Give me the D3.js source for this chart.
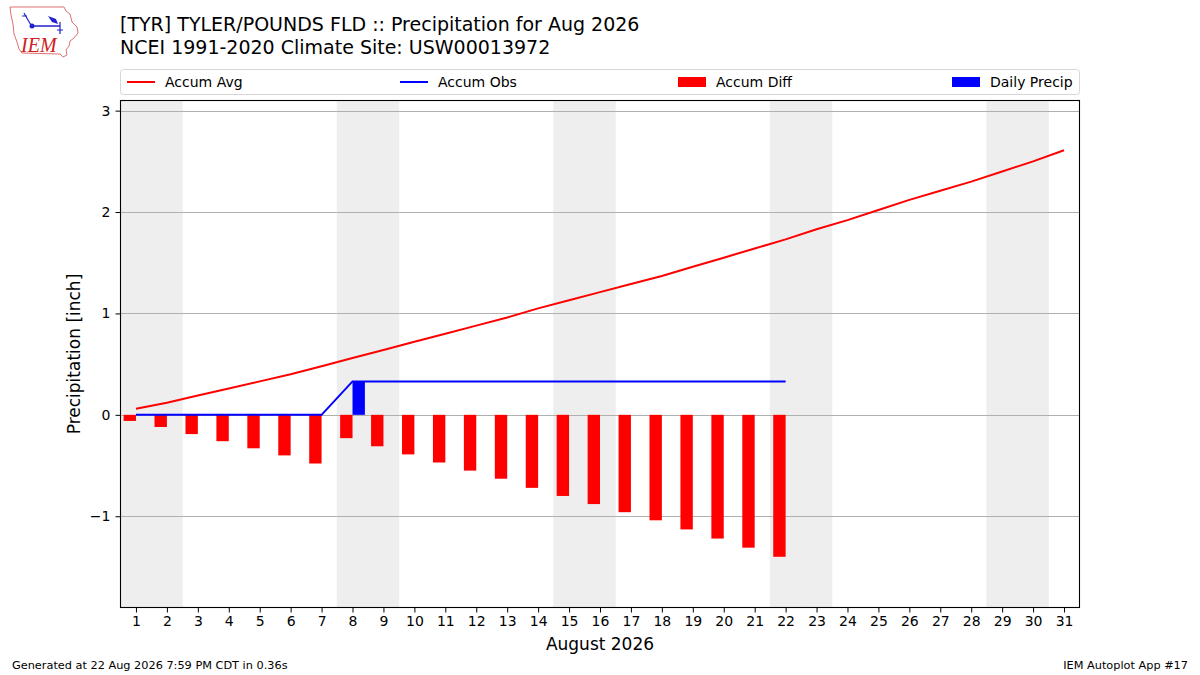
<!DOCTYPE html>
<html>
<head>
<meta charset="utf-8">
<script src="https://cdn.jsdelivr.net/npm/d3@7"></script>
<style>
  body { margin: 0; background: #fff; }
  svg { display: block; font-family: "DejaVu Sans", sans-serif; }
</style>
</head>
<body>
<div id="chart"></div>
<script>
// days of the month shown on the x axis
var days = d3.range(1, 32);
// weekend days (Sat/Sun) of Aug 2026, shaded
var weekends = [1, 2, 8, 9, 15, 16, 22, 23, 29, 30];
// climatology accumulated precip (inch)
var accumAvg = [0.06, 0.12, 0.19, 0.26, 0.33, 0.40, 0.48, 0.56, 0.64, 0.72,
                0.80, 0.88, 0.96, 1.05, 1.13, 1.21, 1.29, 1.37, 1.46, 1.55,
                1.64, 1.73, 1.83, 1.92, 2.02, 2.12, 2.21, 2.30, 2.40, 2.50, 2.61];
// observed daily precip, days 1..22
var dailyPrecip = [0, 0, 0, 0, 0, 0, 0, 0.33, 0, 0, 0, 0, 0, 0, 0, 0, 0, 0, 0, 0, 0, 0];
var yTicks = [-1, 0, 1, 2, 3];

var title1 = "[TYR] TYLER/POUNDS FLD :: Precipitation for Aug 2026";
var title2 = "NCEI 1991-2020 Climate Site: USW00013972";

var W = 1200, H = 675;
var margin = {left: 120.5, right: 1079.5, top: 100.5, bottom: 607.5};

var accumObs = [];
dailyPrecip.reduce(function(acc, v) { acc += v; accumObs.push(acc); return acc; }, 0);
var accumDiff = accumObs.map((v, i) => v - accumAvg[i]);

var svg = d3.select("#chart").append("svg")
    .attr("width", W).attr("height", H);

var x = d3.scaleLinear().domain([0.5, 31.5]).range([margin.left, margin.right]);
var y = d3.scaleLinear().domain([-1.9, 3.1]).range([margin.bottom, margin.top]);
var dayW = x(1) - x(0);

// weekend shading (slight overlap so neighbouring days don't show a seam)
svg.append("g").selectAll("rect")
    .data(weekends)
    .join("rect")
    .attr("x", d => x(d - 0.5) - 0.3)
    .attr("width", dayW + 0.6)
    .attr("y", margin.top)
    .attr("height", margin.bottom - margin.top)
    .attr("fill", "#eeeeee");

// grid
svg.append("g").selectAll("line")
    .data(yTicks)
    .join("line")
    .attr("x1", margin.left).attr("x2", margin.right)
    .attr("y1", d => Math.round(y(d)) + 0.5).attr("y2", d => Math.round(y(d)) + 0.5)
    .attr("stroke", "#b0b0b0").attr("stroke-width", 1);

// accum diff bars, left of the day
svg.append("g").selectAll("rect")
    .data(accumDiff)
    .join("rect")
    .attr("x", (d, i) => x(i + 1 - 0.4))
    .attr("width", dayW * 0.4)
    .attr("y", d => Math.min(y(0), y(d)))
    .attr("height", d => Math.abs(y(d) - y(0)))
    .attr("fill", "red");

// daily precip bars, right of the day
svg.append("g").selectAll("rect")
    .data(dailyPrecip)
    .join("rect")
    .attr("x", (d, i) => x(i + 1))
    .attr("width", dayW * 0.4)
    .attr("y", d => y(d))
    .attr("height", d => y(0) - y(d))
    .attr("fill", "blue");

var line = d3.line().x((d, i) => x(i + 1)).y(d => y(d));

svg.append("path")
    .datum(accumAvg)
    .attr("d", line)
    .attr("fill", "none").attr("stroke", "red").attr("stroke-width", 2);

svg.append("path")
    .datum(accumObs)
    .attr("d", line)
    .attr("fill", "none").attr("stroke", "blue").attr("stroke-width", 2);

// frame
svg.append("rect")
    .attr("x", margin.left).attr("y", margin.top)
    .attr("width", margin.right - margin.left)
    .attr("height", margin.bottom - margin.top)
    .attr("fill", "none").attr("stroke", "#000").attr("stroke-width", 1.1);

// axes
var xAxis = svg.append("g")
    .attr("transform", `translate(0,${margin.bottom})`)
    .call(d3.axisBottom(x).tickValues(days).tickFormat(d3.format("d")).tickSize(5).tickPadding(4));
var yAxis = svg.append("g")
    .attr("transform", `translate(${margin.left},0)`)
    .call(d3.axisLeft(y).tickValues(yTicks).tickFormat(d3.format("d")).tickSize(5).tickPadding(5));
[xAxis, yAxis].forEach(function(g) {
    g.select(".domain").remove();
    g.selectAll("text").attr("font-size", 14).attr("font-family", "DejaVu Sans").attr("fill", "#000");
    g.selectAll("line").attr("stroke", "#000");
});

svg.append("text")
    .attr("x", (margin.left + margin.right) / 2).attr("y", 650)
    .attr("text-anchor", "middle").attr("font-size", 17)
    .text("August 2026");
svg.append("text")
    .attr("transform", `translate(80,${(margin.top + margin.bottom) / 2}) rotate(-90)`)
    .attr("text-anchor", "middle").attr("font-size", 17)
    .text("Precipitation [inch]");

// titles
svg.append("text").attr("x", 120).attr("y", 31).attr("font-size", 19).text(title1);
svg.append("text").attr("x", 120).attr("y", 54).attr("font-size", 19).text(title2);

// legend
var legendItems = [
    {name: "Accum Avg", color: "red", kind: "line"},
    {name: "Accum Obs", color: "blue", kind: "line"},
    {name: "Accum Diff", color: "red", kind: "rect"},
    {name: "Daily Precip", color: "blue", kind: "rect"}
];
var legendCols = [127, 400, 678, 952];
var legY = 82;
svg.append("rect")
    .attr("x", 120.5).attr("y", 69.5).attr("width", 959).attr("height", 25)
    .attr("rx", 3).attr("fill", "#fff").attr("stroke", "#d6d6d6");
var li = svg.append("g").selectAll("g")
    .data(legendItems)
    .join("g")
    .attr("transform", (d, i) => `translate(${legendCols[i]},${legY})`);
li.filter(d => d.kind === "line").append("line")
    .attr("x1", 0).attr("x2", 28).attr("y1", 0).attr("y2", 0)
    .attr("stroke", d => d.color).attr("stroke-width", 2);
li.filter(d => d.kind === "rect").append("rect")
    .attr("x", 0).attr("y", -5).attr("width", 28).attr("height", 10)
    .attr("fill", d => d.color);
li.append("text")
    .attr("x", 38).attr("y", 5)
    .attr("font-size", 14)
    .text(d => d.name);

// footer
svg.append("text").attr("x", 12).attr("y", 669).attr("font-size", 11.3)
    .text("Generated at 22 Aug 2026 7:59 PM CDT in 0.36s");
svg.append("text").attr("x", 1188).attr("y", 669).attr("font-size", 11.3)
    .attr("text-anchor", "end").text("IEM Autoplot App #17");

// IEM logo
var logo = svg.append("g");
logo.append("path")
    .attr("d", "M10,7 L64,7 L66,11 L70,14 L72,22 L77,27 L78,33 L74,38 L70,41 L69,46 L66,50 L67,55 L63,57 L60,54 L22,53 L19,49 L17,42 L14,34 L13,24 L11,15 Z")
    .attr("fill", "#fff").attr("stroke", "#e07070").attr("stroke-width", 1);
logo.append("line").attr("x1", 31).attr("x2", 60).attr("y1", 26).attr("y2", 26)
    .attr("stroke", "#2222cc").attr("stroke-width", 1.5);
logo.append("circle").attr("cx", 32).attr("cy", 26).attr("r", 2.5).attr("fill", "#2222cc");
logo.append("path").attr("d", "M48,16 L56,19 L58,24 L52,22 Z").attr("fill", "#2222cc");
logo.append("path").attr("d", "M24,13 L28,20 L31,25 M22,16 L27,16").attr("fill", "none")
    .attr("stroke", "#2222cc").attr("stroke-width", 1.2);
logo.append("path").attr("d", "M60,22 L60,34 M57,30 L63,30").attr("fill", "none")
    .attr("stroke", "#2222cc").attr("stroke-width", 1.2);
logo.append("text").attr("x", 21).attr("y", 52)
    .attr("font-family", "Liberation Serif").attr("font-style", "italic")
    .attr("font-size", 20).attr("fill", "#d02020").text("IEM");
</script>
</body>
</html>
